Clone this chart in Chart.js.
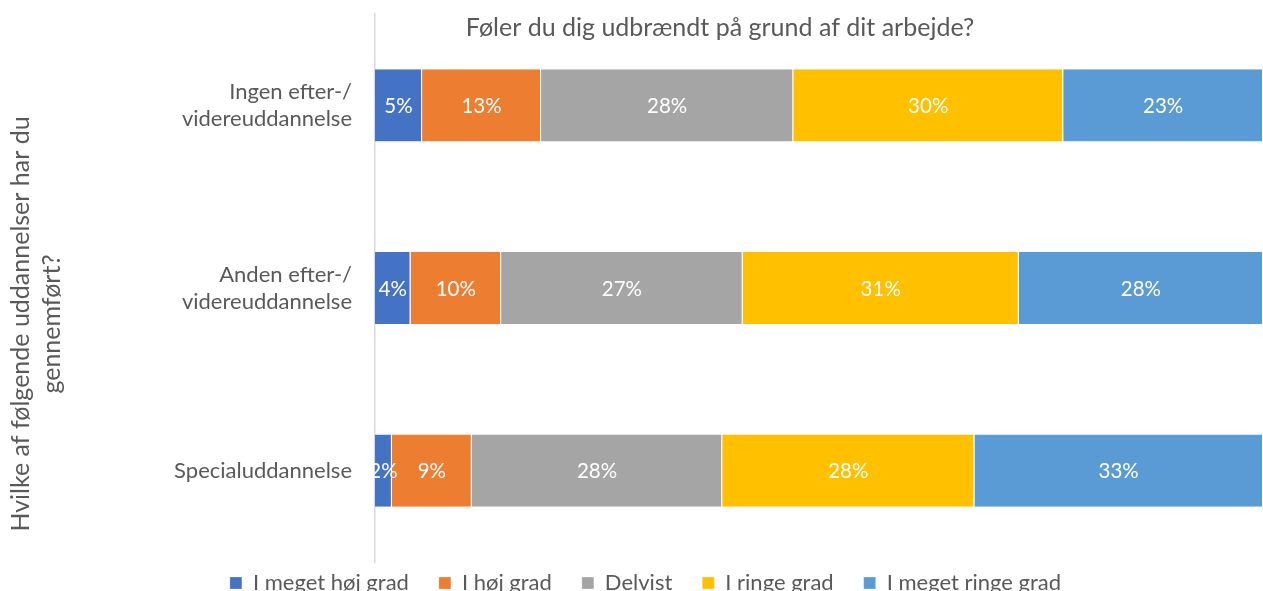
<!DOCTYPE html>
<html>
<head>
<meta charset="utf-8">
<script src="https://cdn.jsdelivr.net/npm/chart.js@4.4.1/dist/chart.umd.min.js"></script>
<style>
  html, body { margin: 0; padding: 0; background: #fff; overflow: hidden; }
  #wrap { position: relative; width: 1263px; height: 624px; }
</style>
</head>
<body>
<div id="wrap"><canvas id="burnoutChart"></canvas></div>
<script>
// Kategorier og serier (andele i %)
const categories = [
    ['Ingen efter-/', 'videreuddannelse'],
    ['Anden efter-/', 'videreuddannelse'],
    'Specialuddannelse'
];
const seriesNames = ['I meget høj grad', 'I høj grad', 'Delvist', 'I ringe grad', 'I meget ringe grad'];
const megetHoej = [5.3, 4.0, 1.9];
const hoej = [13.4, 10.2, 9.0];
const delvist = [28.4, 27.2, 28.2];
const ringe = [30.4, 31.1, 28.4];
const megetRinge = [22.5, 27.5, 32.5];

const chartTitle = 'Føler du dig udbrændt på grund af dit arbejde?';
const axisTitle = ['Hvilke af følgende uddannelser har du', 'gennemført?'];

const colors = ['#4472C4', '#ED7D31', '#A5A5A5', '#FFC000', '#5B9BD5'];
const textGrey = '#595959';
const fontFamily = 'Lato, "Noto Sans", sans-serif';

// Procent-etiketter midt i hvert segment
const barLabels = {
    id: 'barLabels',
    afterDatasetsDraw(chart) {
        const ctx = chart.ctx;
        ctx.save();
        ctx.font = '20.5px ' + fontFamily;
        ctx.fillStyle = '#ffffff';
        ctx.textAlign = 'center';
        ctx.textBaseline = 'middle';
        chart.data.datasets.forEach((ds, i) => {
            chart.getDatasetMeta(i).data.forEach((bar, j) => {
                const p = bar.getProps(['x', 'y', 'base'], true);
                ctx.fillText(Math.round(ds.data[j]) + '%', (p.x + p.base) / 2, p.y + 1);
            });
        });
        ctx.restore();
    }
};

// Titel og y-aksetitel tegnet oven på plotområdet (som i Excel)
const titles = {
    id: 'titles',
    afterLayout(chart) {
        // legenden ligger tættere på plotområdet og lidt mod højre i Excel
        const lg = chart.legend;
        lg.top -= 20;
        lg.bottom -= 20;
        lg.left += 14;
        lg.right += 14;
    },
    afterDraw(chart) {
        const ctx = chart.ctx;
        ctx.save();
        ctx.fillStyle = textGrey;
        ctx.textAlign = 'center';
        ctx.textBaseline = 'middle';
        ctx.font = '25px ' + fontFamily;
        ctx.fillText(chartTitle, 720, 28);

        ctx.translate(21, 324);
        ctx.rotate(-Math.PI / 2);
        ctx.font = '25px ' + fontFamily;
        axisTitle.forEach((line, k) => ctx.fillText(line, 0, k * 31));
        ctx.restore();
    }
};

const datasets = [megetHoej, hoej, delvist, ringe, megetRinge].map((values, i) => ({
    label: seriesNames[i],
    data: values,
    backgroundColor: colors[i],
    borderColor: '#ffffff',
    borderWidth: { left: 0, right: 1, top: 0, bottom: 0 },
    borderSkipped: false,
    barPercentage: 0.5,
    categoryPercentage: 0.79
}));

new Chart(document.getElementById('burnoutChart'), {
    type: 'bar',
    data: { labels: categories, datasets: datasets },
    options: {
        indexAxis: 'y',
        responsive: true,
        maintainAspectRatio: false,
        animation: false,
        layout: { padding: { top: 14, right: 0, left: 0, bottom: 0 } },
        scales: {
            x: {
                stacked: true,
                min: 0,
                max: 100,
                display: false
            },
            y: {
                stacked: true,
                grid: { display: false, drawTicks: false },
                border: { display: true, color: '#D9D9D9', width: 1.5 },
                ticks: {
                    color: textGrey,
                    padding: 23,
                    font: { family: fontFamily, size: 22, lineHeight: 1.23 }
                },
                afterFit(scale) {
                    scale.width = 375;
                    scale.paddingTop = 0;
                    scale.paddingBottom = 0;
                }
            }
        },
        plugins: {
            legend: {
                position: 'bottom',
                labels: {
                    color: textGrey,
                    boxWidth: 12,
                    boxHeight: 12,
                    padding: 30,
                    font: { family: fontFamily, size: 22 }
                }
            },
            tooltip: { enabled: false }
        }
    },
    plugins: [barLabels, titles]
});
</script>
</body>
</html>
